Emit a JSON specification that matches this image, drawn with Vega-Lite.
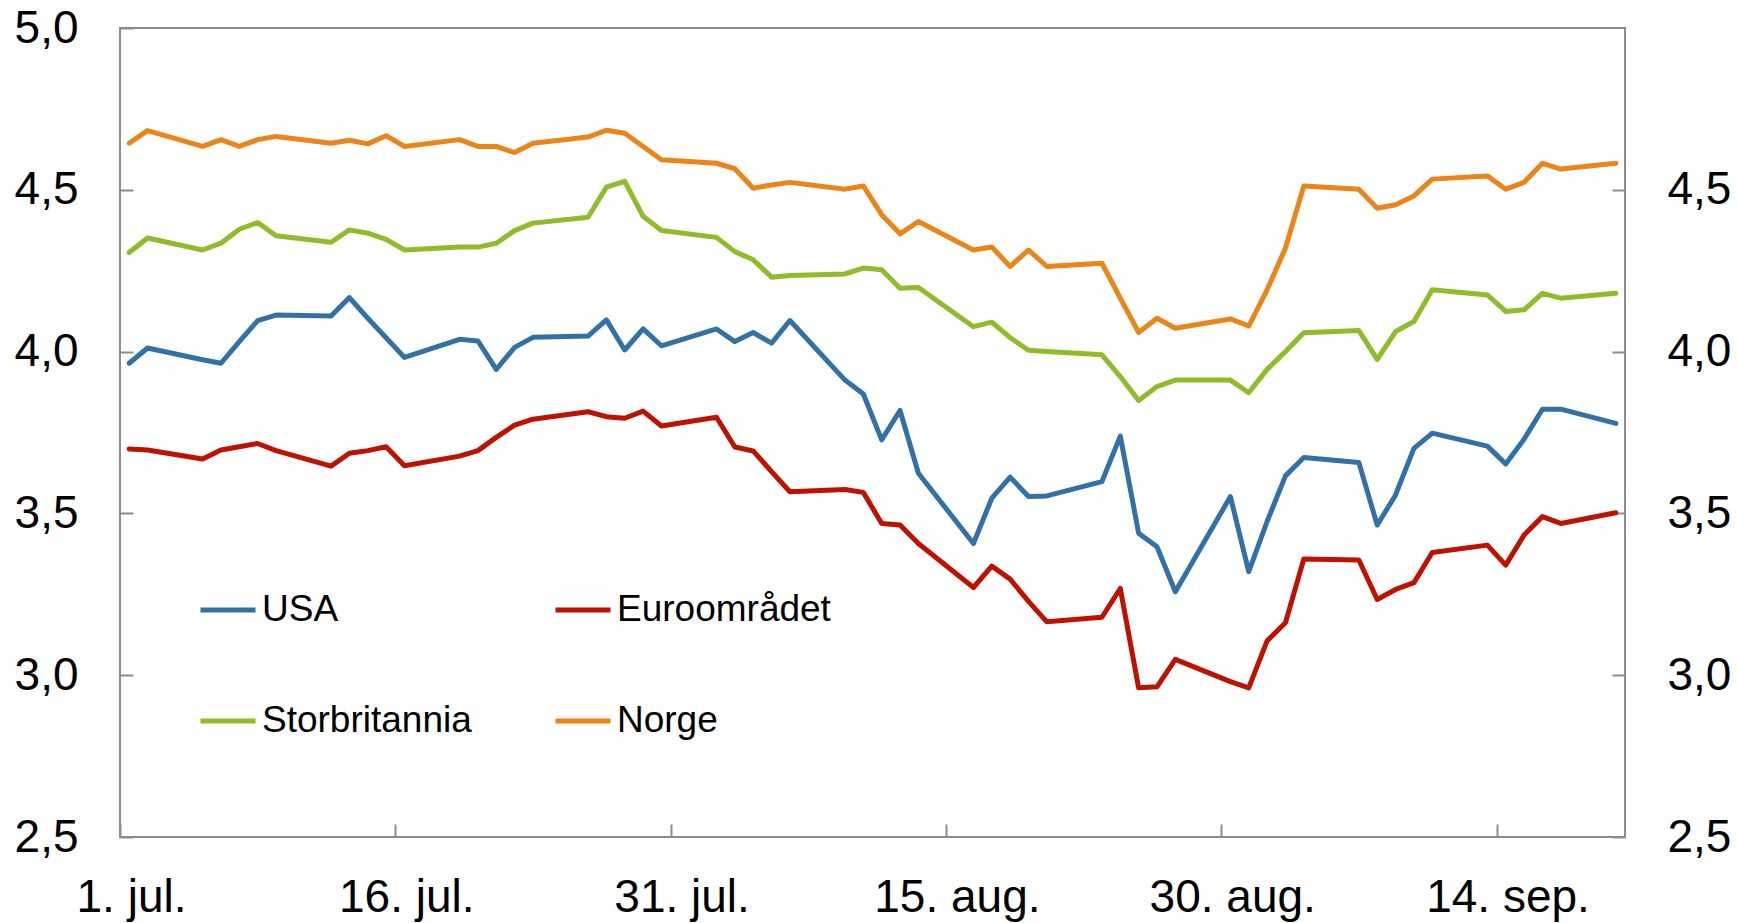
{
  "$schema": "https://vega.github.io/schema/vega-lite/v6.json",
  "width": 1505,
  "height": 809,
  "autosize": {"type": "none"},
  "padding": {"left": 120, "top": 28, "right": 112, "bottom": 86},
  "background": "white",
  "config": {
    "font": "Liberation Sans",
    "view": {"stroke": "#8c8c8c", "strokeWidth": 2},
    "axis": {
      "domain": false,
      "grid": false,
      "tickColor": "#8c8c8c",
      "tickWidth": 2,
      "tickSize": -13,
      "labelColor": "#000000",
      "labelFont": "Liberation Sans",
      "labelFontSize": 46,
      "labelFlush": false,
      "labelOverlap": false,
      "title": null
    }
  },
  "data": {
    "values": [
      {"d": "2010-07-01T12:00:00", "USA": 3.964, "Euroområdet": 3.699, "Storbritannia": 4.306, "Norge": 4.644},
      {"d": "2010-07-02T12:00:00", "USA": 4.011, "Euroområdet": 3.696, "Storbritannia": 4.351, "Norge": 4.683},
      {"d": "2010-07-05T12:00:00", "USA": 3.975, "Euroområdet": 3.668, "Storbritannia": 4.314, "Norge": 4.634},
      {"d": "2010-07-06T12:00:00", "USA": 3.964, "Euroområdet": 3.696, "Storbritannia": 4.335, "Norge": 4.655},
      {"d": "2010-07-07T12:00:00", "USA": 4.031, "Euroområdet": 3.706, "Storbritannia": 4.378, "Norge": 4.634},
      {"d": "2010-07-08T12:00:00", "USA": 4.096, "Euroområdet": 3.716, "Storbritannia": 4.399, "Norge": 4.655},
      {"d": "2010-07-09T12:00:00", "USA": 4.113, "Euroområdet": 3.694, "Storbritannia": 4.358, "Norge": 4.665},
      {"d": "2010-07-12T12:00:00", "USA": 4.110, "Euroområdet": 3.646, "Storbritannia": 4.338, "Norge": 4.644},
      {"d": "2010-07-13T12:00:00", "USA": 4.167, "Euroområdet": 3.686, "Storbritannia": 4.376, "Norge": 4.653},
      {"d": "2010-07-14T12:00:00", "USA": 4.103, "Euroområdet": 3.694, "Storbritannia": 4.366, "Norge": 4.642},
      {"d": "2010-07-15T12:00:00", "USA": 4.043, "Euroområdet": 3.706, "Storbritannia": 4.347, "Norge": 4.667},
      {"d": "2010-07-16T12:00:00", "USA": 3.982, "Euroområdet": 3.647, "Storbritannia": 4.314, "Norge": 4.634},
      {"d": "2010-07-19T12:00:00", "USA": 4.038, "Euroområdet": 3.677, "Storbritannia": 4.323, "Norge": 4.655},
      {"d": "2010-07-20T12:00:00", "USA": 4.033, "Euroområdet": 3.694, "Storbritannia": 4.323, "Norge": 4.634},
      {"d": "2010-07-21T12:00:00", "USA": 3.945, "Euroområdet": 3.735, "Storbritannia": 4.335, "Norge": 4.634},
      {"d": "2010-07-22T12:00:00", "USA": 4.013, "Euroområdet": 3.773, "Storbritannia": 4.374, "Norge": 4.615},
      {"d": "2010-07-23T12:00:00", "USA": 4.044, "Euroområdet": 3.791, "Storbritannia": 4.397, "Norge": 4.644},
      {"d": "2010-07-26T12:00:00", "USA": 4.048, "Euroområdet": 3.814, "Storbritannia": 4.415, "Norge": 4.663},
      {"d": "2010-07-27T12:00:00", "USA": 4.098, "Euroområdet": 3.799, "Storbritannia": 4.508, "Norge": 4.684},
      {"d": "2010-07-28T12:00:00", "USA": 4.005, "Euroområdet": 3.794, "Storbritannia": 4.526, "Norge": 4.675},
      {"d": "2010-07-29T12:00:00", "USA": 4.070, "Euroområdet": 3.816, "Storbritannia": 4.418, "Norge": 4.634},
      {"d": "2010-07-30T12:00:00", "USA": 4.018, "Euroområdet": 3.770, "Storbritannia": 4.374, "Norge": 4.593},
      {"d": "2010-08-02T12:00:00", "USA": 4.070, "Euroområdet": 3.797, "Storbritannia": 4.353, "Norge": 4.582},
      {"d": "2010-08-03T12:00:00", "USA": 4.031, "Euroområdet": 3.705, "Storbritannia": 4.309, "Norge": 4.565},
      {"d": "2010-08-04T12:00:00", "USA": 4.059, "Euroområdet": 3.693, "Storbritannia": 4.284, "Norge": 4.505},
      {"d": "2010-08-05T12:00:00", "USA": 4.026, "Euroområdet": 3.629, "Storbritannia": 4.230, "Norge": 4.515},
      {"d": "2010-08-06T12:00:00", "USA": 4.096, "Euroområdet": 3.567, "Storbritannia": 4.235, "Norge": 4.523},
      {"d": "2010-08-09T12:00:00", "USA": 3.912, "Euroområdet": 3.574, "Storbritannia": 4.240, "Norge": 4.502},
      {"d": "2010-08-10T12:00:00", "USA": 3.869, "Euroområdet": 3.565, "Storbritannia": 4.258, "Norge": 4.512},
      {"d": "2010-08-11T12:00:00", "USA": 3.727, "Euroområdet": 3.469, "Storbritannia": 4.253, "Norge": 4.423},
      {"d": "2010-08-12T12:00:00", "USA": 3.818, "Euroområdet": 3.464, "Storbritannia": 4.196, "Norge": 4.364},
      {"d": "2010-08-13T12:00:00", "USA": 3.624, "Euroområdet": 3.407, "Storbritannia": 4.198, "Norge": 4.402},
      {"d": "2010-08-16T12:00:00", "USA": 3.407, "Euroområdet": 3.271, "Storbritannia": 4.077, "Norge": 4.314},
      {"d": "2010-08-17T12:00:00", "USA": 3.547, "Euroområdet": 3.337, "Storbritannia": 4.091, "Norge": 4.323},
      {"d": "2010-08-18T12:00:00", "USA": 3.612, "Euroområdet": 3.297, "Storbritannia": 4.043, "Norge": 4.263},
      {"d": "2010-08-19T12:00:00", "USA": 3.552, "Euroområdet": 3.228, "Storbritannia": 4.004, "Norge": 4.314},
      {"d": "2010-08-20T12:00:00", "USA": 3.554, "Euroområdet": 3.165, "Storbritannia": 4.000, "Norge": 4.263},
      {"d": "2010-08-23T12:00:00", "USA": 3.598, "Euroområdet": 3.179, "Storbritannia": 3.990, "Norge": 4.273},
      {"d": "2010-08-24T12:00:00", "USA": 3.739, "Euroområdet": 3.268, "Storbritannia": 3.923, "Norge": 4.165},
      {"d": "2010-08-25T12:00:00", "USA": 3.439, "Euroområdet": 2.961, "Storbritannia": 3.849, "Norge": 4.059},
      {"d": "2010-08-26T12:00:00", "USA": 3.397, "Euroområdet": 2.964, "Storbritannia": 3.892, "Norge": 4.103},
      {"d": "2010-08-27T12:00:00", "USA": 3.258, "Euroområdet": 3.049, "Storbritannia": 3.912, "Norge": 4.072},
      {"d": "2010-08-30T12:00:00", "USA": 3.552, "Euroområdet": 2.980, "Storbritannia": 3.912, "Norge": 4.101},
      {"d": "2010-08-31T12:00:00", "USA": 3.320, "Euroområdet": 2.961, "Storbritannia": 3.873, "Norge": 4.079},
      {"d": "2010-09-01T12:00:00", "USA": 3.475, "Euroområdet": 3.106, "Storbritannia": 3.945, "Norge": 4.191},
      {"d": "2010-09-02T12:00:00", "USA": 3.616, "Euroområdet": 3.162, "Storbritannia": 4.000, "Norge": 4.320},
      {"d": "2010-09-03T12:00:00", "USA": 3.673, "Euroområdet": 3.359, "Storbritannia": 4.058, "Norge": 4.512},
      {"d": "2010-09-06T12:00:00", "USA": 3.657, "Euroområdet": 3.356, "Storbritannia": 4.065, "Norge": 4.502},
      {"d": "2010-09-07T12:00:00", "USA": 3.464, "Euroområdet": 3.234, "Storbritannia": 3.976, "Norge": 4.443},
      {"d": "2010-09-08T12:00:00", "USA": 3.557, "Euroområdet": 3.265, "Storbritannia": 4.062, "Norge": 4.454},
      {"d": "2010-09-09T12:00:00", "USA": 3.701, "Euroområdet": 3.286, "Storbritannia": 4.093, "Norge": 4.481},
      {"d": "2010-09-10T12:00:00", "USA": 3.748, "Euroområdet": 3.379, "Storbritannia": 4.191, "Norge": 4.533},
      {"d": "2010-09-13T12:00:00", "USA": 3.708, "Euroområdet": 3.402, "Storbritannia": 4.175, "Norge": 4.543},
      {"d": "2010-09-14T12:00:00", "USA": 3.653, "Euroområdet": 3.340, "Storbritannia": 4.124, "Norge": 4.502},
      {"d": "2010-09-15T12:00:00", "USA": 3.729, "Euroområdet": 3.433, "Storbritannia": 4.129, "Norge": 4.523},
      {"d": "2010-09-16T12:00:00", "USA": 3.822, "Euroområdet": 3.490, "Storbritannia": 4.180, "Norge": 4.582},
      {"d": "2010-09-17T12:00:00", "USA": 3.822, "Euroområdet": 3.469, "Storbritannia": 4.165, "Norge": 4.564},
      {"d": "2010-09-20T12:00:00", "USA": 3.778, "Euroområdet": 3.502, "Storbritannia": 4.180, "Norge": 4.582}
    ]
  },
  "transform": [
    {"fold": ["USA", "Euroområdet", "Storbritannia", "Norge"], "as": ["serie", "verdi"]}
  ],
  "encoding": {
    "x": {
      "field": "d",
      "type": "temporal",
      "scale": {"domain": [{"year": 2010, "month": 7, "date": 1}, {"year": 2010, "month": 9, "date": 21}]},
      "axis": {
        "values": [
          {"year": 2010, "month": 7, "date": 1},
          {"year": 2010, "month": 7, "date": 16},
          {"year": 2010, "month": 7, "date": 31},
          {"year": 2010, "month": 8, "date": 15},
          {"year": 2010, "month": 8, "date": 30},
          {"year": 2010, "month": 9, "date": 14}
        ],
        "labelExpr": "date(datum.value) + '. ' + ['jan','feb','mar','apr','mai','jun','jul','aug','sep','okt','nov','des'][month(datum.value)] + '.'",
        "labelPadding": 51,
        "labelOffset": 11
      }
    }
  },
  "layer": [
    {
      "mark": {"type": "line", "strokeWidth": 5, "strokeJoin": "round", "strokeCap": "round"},
      "encoding": {
        "y": {
          "field": "verdi",
          "type": "quantitative",
          "scale": {"domain": [2.5, 5], "nice": false, "zero": false},
          "axis": {
            "orient": "left",
            "values": [2.5, 3, 3.5, 4, 4.5, 5],
            "labelExpr": "replace(format(datum.value, '.1f'), '.', ',')",
            "labelPadding": 55
          }
        },
        "color": {
          "field": "serie",
          "type": "nominal",
          "scale": {
            "domain": ["USA", "Euroområdet", "Storbritannia", "Norge"],
            "range": ["#3171a7", "#bf1100", "#8fbc29", "#ec8418"]
          },
          "legend": {
            "title": null,
            "orient": "none",
            "legendX": 78,
            "legendY": 552,
            "columns": 2,
            "direction": "horizontal",
            "padding": 0,
            "symbolType": "stroke",
            "symbolSize": 3025,
            "symbolStrokeWidth": 5,
            "labelFont": "Liberation Sans",
            "labelFontSize": 37,
            "labelLimit": 0,
            "labelColor": "#000000",
            "labelOffset": 4,
            "columnPadding": 73,
            "rowPadding": 63
          }
        }
      }
    },
    {
      "mark": {"type": "point", "opacity": 0},
      "encoding": {
        "y": {
          "field": "verdi",
          "type": "quantitative",
          "scale": {"domain": [2.5, 5], "nice": false, "zero": false},
          "axis": {
            "orient": "right",
            "values": [2.5, 3, 3.5, 4, 4.5],
            "labelExpr": "replace(format(datum.value, '.1f'), '.', ',')",
            "labelPadding": 55
          }
        }
      }
    }
  ],
  "resolve": {"scale": {"y": "independent"}}
}
